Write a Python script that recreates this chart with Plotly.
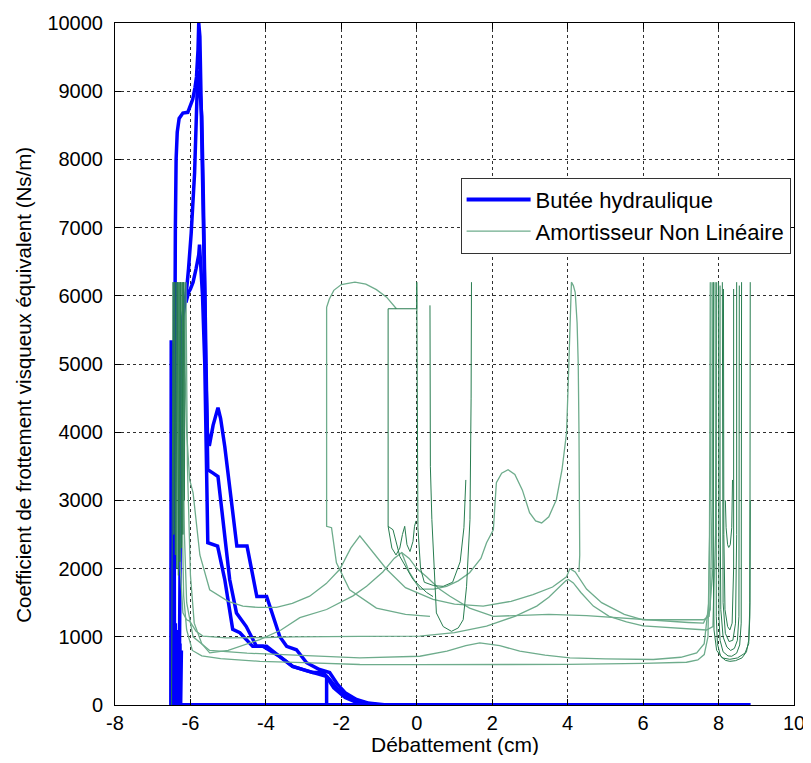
import plotly.graph_objects as go

# ---------------- Butée hydraulique (blue) ----------------
blue_base_x = [-6.5, 8.85]
blue_base_y = [0, 0]

blue_spikes_x = [-6.52, -6.51, -6.49, -6.47, -6.46, -6.44, -6.42, -6.4, -6.38, -6.36, -6.34, -6.32, -6.3, -6.28, -6.26, -6.24]
blue_spikes_y = [0, 5350, 0, 5300, 0, 4800, 0, 1200, 0, 1100, 0, 1000, 0, 900, 0, 800]

blue_loop1_x = [-6.45, -6.42, -6.4, -6.38, -6.35, -6.3, -6.2, -6.07, -5.94, -5.88, -5.84, -5.8, -5.78, -5.75, -5.72, -5.68,
                -5.65, -5.62, -5.6, -5.58, -5.55, -5.5, -5.4, -5.27, -5.2, -5.09, -4.9, -4.77, -4.5, -4.24, -3.98, -3.8,
                -3.63, -3.45, -3.19, -2.92, -2.58, -2.31, -2.1, -1.9, -1.6, -1.3, -1.0, -0.8]
blue_loop1_y = [0, 5300, 7000, 8000, 8400, 8600, 8680, 8690, 8880, 9050, 9210, 9600, 10000, 9800, 9000, 8000,
                7000, 6000, 5000, 4500, 4000, 3800, 4100, 4360, 4200, 3790, 2910, 2330, 2330, 1590, 1590, 1300,
                1000, 860, 810, 620, 520, 475, 300, 180, 80, 30, 10, 0]

blue_loop2_x = [-6.3, -6.27, -6.24, -6.2, -6.15, -6.11, -6.05, -5.98, -5.89, -5.84, -5.81, -5.78, -5.74, -5.7, -5.66,
                -5.62, -5.6, -5.58, -5.56, -5.54, -5.4, -5.27, -5.14, -4.96, -4.78, -4.52, -4.25, -3.98, -3.63, -3.29,
                -2.76, -2.49, -2.31, -2.1, -1.8, -1.5, -1.2, -1.0]
blue_loop2_y = [0, 3000, 5000, 5700, 5900, 6040, 6400, 6920, 7800, 8880, 9210, 9300, 9000, 8630, 7500,
                6000, 5000, 4300, 3900, 3450, 3400, 3350, 2720, 1840, 1350, 1150, 860, 860, 710, 565,
                475, 475, 375, 230, 120, 50, 15, 0]

blue_loop3_x = [-6.12, -6.05, -6.0, -5.93, -5.85, -5.78, -5.76, -5.72, -5.68, -5.62, -5.58, -5.54, -5.28, -5.09, -4.88,
                -4.69, -4.35, -4.08, -3.63, -3.29, -2.9, -2.6, -2.4, -2.2, -1.9, -1.6, -1.3]
blue_loop3_y = [5900, 6050, 6100, 6200, 6400, 6600, 6750, 6400, 6000, 5000, 3800, 2380, 2330, 1840, 1110,
                1060, 860, 860, 710, 565, 500, 450, 420, 250, 110, 40, 0]

blue_step_x = [-2.39, -2.39]
blue_step_y = [0, 430]

# ---------------- Amortisseur Non Linéaire (green) ----------------
green_long1_x = [-6.27, -6.25, -6.22, -6.18, -6.1, -5.95, -5.7, -5.2, -4.16, -3.0, -1.51, 0.0, 2.0, 4.0, 6.0, 7.15,
                 7.45, 7.62, 7.72, 7.76, 7.78]
green_long1_y = [6200, 4500, 2800, 1600, 1100, 800, 720, 680, 640, 620, 594, 592, 590, 595, 610, 627,
                 660, 740, 1000, 2500, 6200]

green_long2_x = [-6.22, -6.2, -6.16, -6.1, -5.93, -5.49, -4.5, -3.0, -1.51, 0.08, 0.8, 1.3, 1.67, 2.2, 2.73, 3.4,
                 4.06, 5.0, 6.27, 7.0, 7.42, 7.62, 7.74, 7.79, 7.8]
green_long2_y = [6200, 4200, 2500, 1500, 1000, 800, 760, 730, 690, 715, 790, 870, 912, 870, 790, 730,
                 690, 675, 667, 700, 765, 900, 1500, 3500, 6200]

green_long3_x = [-6.32, -6.3, -6.27, -6.2, -6.1, -6.02, -5.85, -5.67, -5.05, -4.0, -3.28, -1.5, 0.08, 1.0, 1.85,
                 2.6, 3.18, 3.5, 3.79, 3.95, 4.02, 4.15, 4.35, 4.68, 5.1, 5.56, 6.0, 6.5, 7.0, 7.68, 7.85, 7.92, 7.95]
green_long3_y = [6200, 3500, 2000, 1350, 1250, 1230, 1080, 1010, 985, 990, 1000, 1005, 1010, 1060, 1155,
                 1300, 1450, 1580, 1740, 1820, 1840, 1790, 1650, 1450, 1300, 1220, 1160, 1140, 1130, 1100, 1150, 2500, 6200]

green_long4_x = [-6.18, -6.15, -6.1, -6.02, -5.93, -5.75, -5.49, -5.0, -4.61, -4.2, -3.72, -3.3, -2.84, -2.4, -2.04,
                 -1.75, -1.51, -1.25, -0.8, -0.3, 0.43, 1.0, 1.76, 2.5, 3.08, 3.6, 3.97, 4.06, 4.2, 4.5, 4.9, 5.5,
                 6.0, 7.0, 7.6, 7.75, 7.85, 7.88]
green_long4_y = [6200, 5000, 4000, 3300, 3110, 2200, 1690, 1520, 1450, 1430, 1430, 1490, 1595, 1780, 1990,
                 2300, 2480, 2300, 1990, 1720, 1550, 1480, 1450, 1520, 1620, 1730, 1880, 2000, 1950, 1700, 1500, 1330,
                 1250, 1250, 1250, 1300, 2000, 6200]

green_long5_x = [-6.12, -6.08, -6.0, -5.9, -5.7, -5.49, -5.0, -4.16, -3.6, -3.1, -2.39, -1.69, -1.33, -0.9, -0.6,
                 -0.4, -0.2, 0.0, 0.26, 0.6, 0.88, 1.4, 2.03, 2.73, 3.5, 4.5, 5.5, 6.5, 7.2, 7.6, 7.78, 7.83, 7.85]
green_long5_y = [6200, 3500, 1900, 1200, 900, 765, 800, 960, 1100, 1280, 1400, 1600, 1740, 1950, 2150,
                 2235, 2150, 2000, 1880, 1700, 1595, 1420, 1300, 1310, 1330, 1310, 1270, 1230, 1210, 1200, 1400, 3000, 6200]

green_arch_x = [0.35, -0.3, -1.07, -1.78, -2.13, -2.26, -2.39, -2.39, -2.32, -2.2, -2.0, -1.64, -1.35, -1.07, -0.8, -0.54]
green_arch_y = [1300, 1330, 1420, 1690, 2085, 2600, 2620, 5830, 5950, 6080, 6165, 6200, 6170, 6090, 5980, 5810]

green_rect_x = [0.43, 0.26, -0.1, -0.45, -0.63, -0.76, -0.76, 0.0, 0.0]
green_rect_y = [1590, 1650, 1840, 2180, 2570, 2620, 5810, 5810, 6200]

green_m_x = [-0.76, -0.66, -0.55, -0.45, -0.38, -0.32, -0.26, -0.18, -0.1, -0.06, -0.02]
green_m_y = [2620, 2300, 2200, 2300, 2500, 2620, 2350, 2250, 2400, 2620, 2700]

green_inner_x = [0.0, 0.01, 0.03, 0.1, 0.2, 0.45, 0.7, 0.95, 1.15, 1.25, 1.29, 1.3]
green_inner_y = [6200, 4000, 2600, 2000, 1800, 1750, 1740, 1800, 2100, 2600, 3100, 3300]

green_u2_x = [0.35, 0.35, 0.36, 0.4, 0.52, 0.7, 0.92, 1.1, 1.23, 1.32, 1.41, 1.44, 1.45]
green_u2_y = [5860, 4500, 3500, 2720, 1350, 1150, 1080, 1130, 1250, 1740, 2720, 4500, 6200]

green_hump_x = [-0.4, -0.2, 0.08, 0.45, 0.79, 1.1, 1.4, 1.7, 1.85, 2.03, 2.11, 2.25, 2.42, 2.6, 2.8, 2.99, 3.15,
                3.31, 3.5, 3.7, 3.85, 3.97, 4.02, 4.06, 4.1, 4.15, 4.2, 4.25, 4.28, 4.3, 4.32, 4.32, 4.3]
green_hump_y = [2235, 1950, 1700, 1700, 1740, 1820, 1940, 2150, 2380, 2570, 3260, 3400, 3450, 3380, 3150, 2820, 2700,
                2670, 2760, 3010, 3450, 3990, 4800, 5600, 6200, 6150, 6050, 5600, 5000, 4000, 3000, 2200, 1950]

green_left_x = [-6.5, -6.48, -6.46, -6.44, -6.42, -6.4, -6.38, -6.36, -6.34, -6.32, -6.3, -6.28, -6.26, -6.24,
                -6.22, -6.2, -6.18, -6.16, -6.14]
green_left_y = [0, 5800, 6200, 2500, 6200, 2200, 6200, 2000, 6200, 1900, 6200, 2100, 6200, 2300,
                6200, 2500, 6200, 3000, 6200]

green_r1_x = [7.93, 7.93, 7.94, 7.97, 8.05, 8.18, 8.3, 8.45, 8.62, 8.74, 8.8, 8.83, 8.84, 8.84]
green_r1_y = [6200, 3000, 1300, 900, 720, 655, 640, 650, 690, 780, 950, 1300, 3000, 6200]
green_r2_x = [8.0, 8.0, 8.01, 8.04, 8.12, 8.25, 8.35, 8.48, 8.56, 8.6, 8.61, 8.61]
green_r2_y = [6200, 3000, 1300, 950, 780, 720, 715, 760, 880, 1200, 3000, 6200]
green_r3_x = [8.04, 8.04, 8.06, 8.12, 8.22, 8.32, 8.42, 8.5, 8.54, 8.55, 8.55]
green_r3_y = [6150, 3000, 1400, 1000, 850, 800, 830, 950, 1300, 3000, 6150]
green_r4_x = [8.1, 8.1, 8.12, 8.18, 8.28, 8.38, 8.45, 8.48, 8.48]
green_r4_y = [6200, 3000, 1500, 1050, 930, 950, 1200, 2500, 6200]
green_r5_x = [8.13, 8.14, 8.17, 8.24, 8.3, 8.36, 8.4, 8.4]
green_r5_y = [6100, 2500, 1400, 1150, 1100, 1200, 2000, 6100]
green_r6_x = [8.18, 8.2, 8.24, 8.27, 8.31, 8.35, 8.37]
green_r6_y = [3000, 2600, 2350, 2310, 2350, 2600, 3300]
green_r7_x = [7.86, 7.86, 7.88, 7.95, 8.1, 8.3, 8.5, 8.7, 8.8, 8.83, 8.84]
green_r7_y = [6200, 2000, 1100, 800, 690, 670, 690, 760, 900, 1500, 3000]

x_ticks = [-8, -6, -4, -2, 0, 2, 4, 6, 8, 10]
y_ticks = [0, 1000, 2000, 3000, 4000, 5000, 6000, 7000, 8000, 9000, 10000]

x_title = "Débattement (cm)"
y_title = "Coefficient de frottement visqueux équivalent (Ns/m)"

BLUE = "#0000FF"
GREEN_LIGHT = "rgb(110,172,140)"
GREEN_DARK = "rgb(40,125,80)"

fig = go.Figure()


def add(x, y, color, width, name=None, group=None, show=False):
    fig.add_trace(go.Scatter(x=x, y=y, mode="lines", line=dict(color=color, width=width),
                             name=name, legendgroup=group, showlegend=show, hoverinfo="skip"))


add(blue_base_x, blue_base_y, BLUE, 4, "Butée hydraulique", "b", True)
add(blue_spikes_x, blue_spikes_y, BLUE, 3.5, group="b")
add(blue_loop1_x, blue_loop1_y, BLUE, 3.5, group="b")
add(blue_loop2_x, blue_loop2_y, BLUE, 3.5, group="b")
add(blue_loop3_x, blue_loop3_y, BLUE, 3.5, group="b")
add(blue_step_x, blue_step_y, BLUE, 3.5, group="b")

add(green_long1_x, green_long1_y, GREEN_LIGHT, 1.3, "Amortisseur Non Linéaire", "g", True)
for gx, gy in [(green_long2_x, green_long2_y), (green_long3_x, green_long3_y),
               (green_long4_x, green_long4_y), (green_long5_x, green_long5_y),
               (green_hump_x, green_hump_y), (green_arch_x, green_arch_y)]:
    add(gx, gy, GREEN_LIGHT, 1.3, group="g")
for gx, gy in [(green_rect_x, green_rect_y), (green_m_x, green_m_y), (green_inner_x, green_inner_y),
               (green_u2_x, green_u2_y), (green_left_x, green_left_y),
               (green_r1_x, green_r1_y), (green_r2_x, green_r2_y), (green_r3_x, green_r3_y),
               (green_r4_x, green_r4_y), (green_r5_x, green_r5_y), (green_r6_x, green_r6_y),
               (green_r7_x, green_r7_y)]:
    add(gx, gy, GREEN_DARK, 1, group="g")

axis_common = dict(showgrid=True, gridcolor="#303030", griddash="3px,3px", gridwidth=1,
                   showline=True, linecolor="black", linewidth=1, mirror="ticks",
                   ticks="inside", ticklen=6, tickcolor="black", zeroline=False,
                   ticklabeloverflow="allow", tickfont=dict(size=20, color="black"))

# page body has an 8px margin: figure is placed at (8,8) on the page
# plot area target (page px): left 115, right 794, top 23, bottom 705.5
fig.update_layout(
    width=803, height=747,
    margin=dict(l=107, r=17, t=15, b=49.5, autoexpand=False),
    paper_bgcolor="white", plot_bgcolor="white",
    font=dict(family="Liberation Sans, Arial, sans-serif", size=20, color="black"),
    showlegend=True,
    legend=dict(x=0.509, y=0.773, xanchor="left", yanchor="top", bgcolor="white",
                bordercolor="#333333", borderwidth=1, font=dict(size=22), itemwidth=64,
                tracegroupgap=0, traceorder="normal"),
    xaxis=dict(range=[-8, 10], tickvals=x_ticks, ticktext=[str(v) for v in x_ticks], **axis_common),
    yaxis=dict(range=[0, 10000], tickvals=y_ticks, ticktext=[str(v) for v in y_ticks],
               ticklabelstandoff=7, **axis_common),
    annotations=[
        dict(text=x_title, xref="paper", yref="paper", x=0.5, y=-0.058, xanchor="center", yanchor="middle",
             showarrow=False, font=dict(size=21, color="black")),
        dict(text=y_title, xref="paper", yref="paper", x=-0.135, y=0.47, xanchor="center", yanchor="middle",
             textangle=-90, showarrow=False, font=dict(size=20.5, color="black")),
    ],
)

fig.write_html("out.html")
